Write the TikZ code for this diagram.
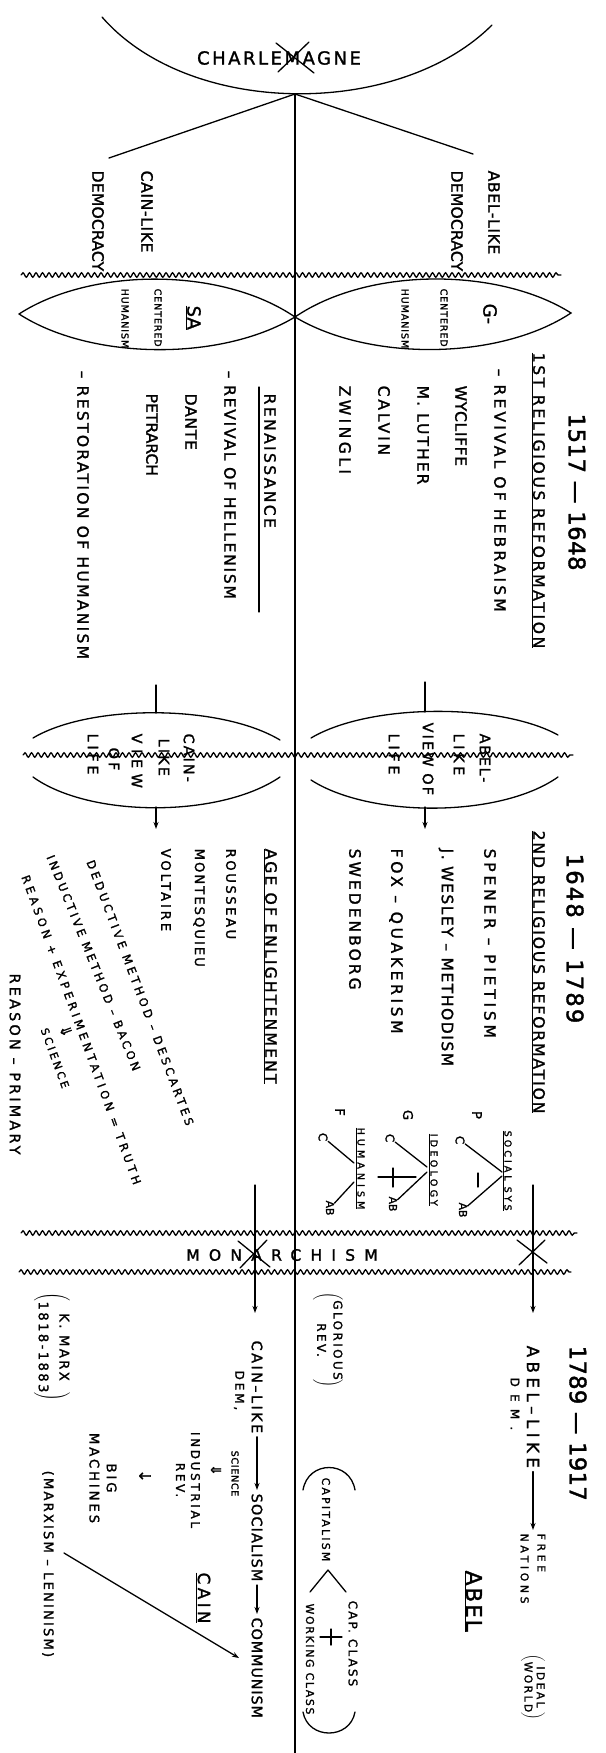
\documentclass[tikz,border=0pt]{standalone}
\usepackage{fontspec}
\setmainfont{DejaVu Sans}
\newfontfamily\handfont[FakeBold=1.5]{DejaVu Sans}
\usetikzlibrary{arrows.meta,decorations.pathmorphing}

\newcommand\hw[2]{\handfont\fontsize{#1}{#1}\selectfont\addfontfeature{LetterSpace=#2}}
\newcommand\pbox[1]{$\left(\vcenter{\hbox{\begin{tabular}{@{}c@{}}#1\end{tabular}}}\right)$}

\begin{document}
\begin{tikzpicture}[
    x=1pt, y=-1pt,
    line width=1.3pt,
    line cap=round,
    vtext/.style={
        rotate=-90,
        anchor=west,
        inner sep=0pt,
        font=\hw{15.6}{10}
    },
    ctext/.style={
        rotate=-90,
        inner sep=0pt,
        align=center
    },
    htext/.style={
        inner sep=0pt
    },
    slant/.style={
        anchor=west,
        inner sep=0pt,
        font=\hw{11.5}{28}
    },
    wave/.style={
        decorate,
        decoration={snake, segment length=6.5pt, amplitude=2.2pt}
    },
    flow/.style={
        -{Stealth[length=7pt,width=5pt]}
    },
    spine/.style={
        line width=2pt
    }
]
\useasboundingbox (0,0) rectangle (605,1753);

%---------------------------------------------------------------------
% Charlemagne
%---------------------------------------------------------------------

\coordinate (apex) at (295,94);
\coordinate (spinebot) at (295,1753);
\coordinate (cainend) at (109,158);
\coordinate (abelend) at (473,154);

\draw (102,17) .. controls (190,118) and (399,118) .. (492,25);
\node[htext, font=\hw{18}{14}] (charl) at (279,58) {CHARLEMAGNE};
\draw (276,43) -- (314,73);
\draw (309,42) -- (278,72);

\draw[spine] (apex) -- (spinebot);
\draw (apex) -- (cainend);
\draw (apex) -- (abelend);

\node[vtext, font=\hw{15.6}{4}] (cain1) at (147,170) {CAIN-LIKE};
\node[vtext, font=\hw{15.6}{1}] (democ1) at (98,170) {DEMOCRACY};
\node[vtext, font=\hw{15.6}{4}] (abel1) at (494,170) {ABEL-LIKE};
\node[vtext, font=\hw{15.6}{1}] (democ2) at (457,170) {DEMOCRACY};

%---------------------------------------------------------------------
% 1517 - 1648
%---------------------------------------------------------------------

\draw[wave] (21,275) -- (561,275);

\draw (19,314) .. controls (90,268) and (220,266) .. (295,317)
    .. controls (220,362) and (90,360) .. (19,314);
\draw (295,317) .. controls (370,266) and (500,268) .. (571,313)
    .. controls (500,360) and (370,362) .. (295,317);

\node[vtext, font=\hw{9.6}{9}] (hum1) at (125,288) {HUMANISM};
\node[vtext, font=\hw{9.6}{9}] (cent1) at (158,288) {CENTERED};
\node[vtext, font=\hw{18}{0}] (satan) at (193,305) {\underline{SA}};
\node[vtext, font=\hw{9.6}{9}] (hum2) at (405,288) {HUMANISM};
\node[vtext, font=\hw{9.6}{9}] (cent2) at (444,288) {CENTERED};
\node[vtext, font=\hw{18}{0}] (god) at (490,303) {G-};

\node[vtext, font=\hw{22.8}{2}] (date1) at (577,413) {1517 — 1648};
\node[vtext, font=\hw{15.6}{17}] (refone) at (538,352) {\underline{1ST RELIGIOUS REFORMATION}};
\node[vtext, font=\hw{15.6}{20}] (hebr) at (500,368) {– REVIVAL OF HEBRAISM};
\node[vtext, font=\hw{15.6}{4}] (wyc) at (461,385) {WYCLIFFE};
\node[vtext, font=\hw{15.6}{13}] (luther) at (423,385) {M. LUTHER};
\node[vtext, font=\hw{15.6}{18}] (calvin) at (384,385) {CALVIN};
\node[vtext, font=\hw{15.6}{22}] (zwingli) at (345,385) {ZWINGLI};

\node[vtext, font=\hw{15.6}{15}] (renai) at (270,393) {RENAISSANCE};
\draw (259,387) -- (259,612);
\node[vtext, font=\hw{15.6}{11}] (hell) at (230,370) {– REVIVAL OF HELLENISM};
\node[vtext, font=\hw{15.6}{4.5}] (dante) at (191,393) {DANTE};
\node[vtext, font=\hw{15.6}{0}] (petr) at (152,393) {PETRARCH};
\node[vtext, font=\hw{15.6}{14.5}] (restor) at (83,370) {– RESTORATION OF HUMANISM};

%---------------------------------------------------------------------
% Views of life
%---------------------------------------------------------------------

\draw[wave] (23,755) -- (573,755);

\draw (33,738) .. controls (90,704) and (220,704) .. (280,740);
\draw (33,777) .. controls (90,818) and (220,818) .. (280,777);
\draw (311,738) .. controls (370,703) and (500,703) .. (558,735);
\draw (311,780) .. controls (370,818) and (500,818) .. (558,777);

\coordinate (ltop) at (156,685);
\coordinate (ltick) at (156,713);
\coordinate (lbot) at (156,807);
\coordinate (lend) at (156,829);
\coordinate (rtop) at (425,682);
\coordinate (rtick) at (425,712);
\coordinate (rbot) at (425,807);
\coordinate (rend) at (425,829);
\draw (ltop) -- (ltick);
\draw[flow] (lbot) -- (lend);
\draw (rtop) -- (rtick);
\draw[flow] (rbot) -- (rend);

\node[vtext, font=\hw{14.4}{14}] (cainv) at (189,733) {CAIN-};
\node[vtext, font=\hw{14.4}{15}] (likel) at (164,738) {LIKE};
\node[vtext, font=\hw{14.4}{39}] (viewl) at (137,733) {VIEW};
\node[vtext, font=\hw{14.4}{22}] (ofl) at (114,747) {OF};
\node[vtext, font=\hw{14.4}{26}] (lifel) at (93,733) {LIFE};
\node[vtext, font=\hw{14.4}{12}] (abelv) at (485,733) {ABEL-};
\node[vtext, font=\hw{14.4}{25}] (liker) at (459,733) {LIKE};
\node[vtext, font=\hw{14.4}{15}] (viewr) at (428,722) {VIEW OF};
\node[vtext, font=\hw{14.4}{26}] (lifer) at (394,733) {LIFE};

%---------------------------------------------------------------------
% 1648 - 1789
%---------------------------------------------------------------------

\node[vtext, font=\hw{22.8}{9}] (date2) at (575,853) {1648 — 1789};
\node[vtext, font=\hw{15.6}{12}] (reftwo) at (538,830) {\underline{2ND RELIGIOUS REFORMATION}};
\node[vtext, font=\hw{15.6}{24}] (spener) at (490,848) {SPENER – PIETISM};
\node[vtext, font=\hw{15.6}{9.5}] (wesley) at (446,848) {J. WESLEY – METHODISM};
\node[vtext, font=\hw{15.6}{23}] (fox) at (396,848) {FOX – QUAKERISM};
\node[vtext, font=\hw{15.6}{19}] (sweden) at (355,848) {SWEDENBORG};

\node[vtext, font=\hw{15.6}{14}] (enl) at (270,848) {\underline{AGE OF ENLIGHTENMENT}};
\node[vtext, font=\hw{13.2}{19}] (rousseau) at (231,848) {ROUSSEAU};
\node[vtext, font=\hw{13.2}{15}] (montesq) at (199,848) {MONTESQUIEU};
\node[vtext, font=\hw{13.2}{22}] (voltaire) at (166,848) {VOLTAIRE};

\node[slant, rotate=-69.3, font=\hw{11.5}{29}] (deduct) at (90,860) {DEDUCTIVE METHOD – DESCARTES};
\node[slant, rotate=-68, font=\hw{11.5}{26}] (induct) at (50,855) {INDUCTIVE METHOD – BACON};
\node[slant, rotate=-70, font=\hw{11.5}{32}] (reason) at (25,875) {REASON + EXPERIMENTATION = TRUTH};
\node[slant, rotate=-70, anchor=center, font=\hw{15}{0}] (dn1) at (66,1031) {⇓};
\node[slant, rotate=-70, anchor=center, font=\hw{10.8}{25}] (sci1) at (55,1058) {SCIENCE};
\node[vtext, font=\hw{14.4}{22}] (primary) at (15,973) {REASON – PRIMARY};

%---------------------------------------------------------------------
% Forks
%---------------------------------------------------------------------

\node[vtext, anchor=center, font=\hw{13.2}{0}] (p) at (477,1115) {P};
\node[vtext, font=\hw{9.6}{31}] (socsys) at (507,1130) {\underline{SOCIAL SYS}};
\node[vtext, anchor=center, font=\hw{12}{0}] (c1) at (460,1140) {C};
\node[vtext, anchor=center, font=\hw{10.8}{0}] (ab1) at (463,1210) {AB};
\coordinate (j1a) at (502,1172);
\coordinate (j1b) at (502,1176);
\draw (c1) -- (j1a);
\draw (j1b) -- (ab1);
\draw (478,1173) -- (478,1187);

\node[vtext, anchor=center, font=\hw{13.2}{0}] (g) at (408,1115) {G};
\node[vtext, font=\hw{9.6}{34}] (ideo) at (433,1133) {\underline{IDEOLOGY}};
\node[vtext, anchor=center, font=\hw{12}{0}] (c2) at (390,1138) {C};
\node[vtext, anchor=center, font=\hw{10.8}{0}] (ab2) at (393,1204) {AB};
\coordinate (j2a) at (427,1167);
\coordinate (j2b) at (427,1172);
\draw (c2) -- (j2a);
\draw (j2b) -- (ab2);
\draw (378,1177) -- (416,1177);
\draw (393,1168) -- (393,1187);

\node[vtext, anchor=center, font=\hw{13.2}{0}] (f) at (340,1112) {F};
\node[vtext, font=\hw{9.6}{42}] (hum3) at (360,1127) {\underline{HUMANISM}};
\node[vtext, anchor=center, font=\hw{12}{0}] (c3) at (323,1137) {C};
\node[vtext, anchor=center, font=\hw{10.8}{0}] (ab3) at (330,1208) {AB};
\coordinate (j3a) at (354,1163);
\coordinate (j3b) at (354,1182);
\draw (c3) -- (j3a);
\draw (j3b) -- (ab3);

%---------------------------------------------------------------------
% Monarchism
%---------------------------------------------------------------------

\draw[wave] (21,1233) -- (577,1233);
\draw[wave] (19,1272) -- (571,1272);
\node[htext, font=\hw{15.6}{59}] (monar) at (282,1255) {MONARCHISM};
\draw (238,1241) -- (270,1267);
\draw (267,1240) -- (240,1268);
\draw (517,1240) -- (547,1263);
\draw (545,1240) -- (519,1265);

\coordinate (cstart) at (255,1185);
\coordinate (cend) at (255,1313);
\coordinate (astart) at (533,1185);
\coordinate (aend) at (533,1313);
\draw[flow] (cstart) -- (cend);
\draw[flow] (astart) -- (aend);

%---------------------------------------------------------------------
% 1789 - 1917
%---------------------------------------------------------------------

\node[ctext, font=\hw{12}{20}] (glor) at (328,1340) {\pbox{GLORIOUS\\[4pt]REV.}};
\node[ctext, font=\hw{13.2}{18}] (marx) at (52,1347) {\pbox{K. MARX\\[7pt]1818-1883}};

\node[vtext, font=\hw{22.8}{1}] (date3) at (578,1345) {1789 — 1917};
\node[vtext, font=\hw{16.8}{26}] (abell) at (533,1345) {ABEL–LIKE};
\node[vtext, font=\hw{10.8}{34}, align=left] (freen) at (533,1533) {FREE\\[6pt]NATIONS};
\draw[flow, shorten <=3pt, shorten >=3pt] (abell) -- (freen);
\node[vtext, font=\hw{12}{60}] (dem1) at (515,1377) {DEM.};
\node[ctext, font=\hw{10.8}{22}] (ideal) at (533,1687) {\pbox{IDEAL\\[1pt]WORLD}};
\node[vtext, font=\hw{21.6}{9}] (abel) at (473,1570) {\underline{ABEL}};

\node[vtext, font=\hw{14.4}{17}] (cain2) at (257,1340) {CAIN–LIKE};
\node[vtext, font=\hw{14.4}{8}] (social) at (257,1493) {SOCIALISM};
\node[vtext, font=\hw{14.4}{6}] (commun) at (257,1617) {COMMUNISM};
\draw[flow, shorten <=3pt, shorten >=3pt] (cain2) -- (social);
\draw[flow, shorten <=3pt, shorten >=3pt] (social) -- (commun);
\node[vtext, font=\hw{12}{24}] (dem2) at (239,1370) {DEM,};
\node[vtext, font=\hw{9.6}{7}] (sci2) at (235,1450) {SCIENCE};
\node[vtext, anchor=center, font=\hw{14}{0}] (dn2) at (216,1470) {⇓};
\node[vtext, anchor=center, font=\hw{12}{22}, align=center] (indus) at (188,1480) {INDUSTRIAL\\[3pt]REV.};
\node[vtext, anchor=center, font=\hw{16}{0}] (dn3) at (145,1476) {↓};
\node[vtext, anchor=center, font=\hw{13.2}{22}, align=center] (bigm) at (103,1478) {BIG\\[4pt]MACHINES};
\node[vtext, font=\hw{16.8}{20}] (cain3) at (203,1572) {\underline{CAIN}};
\node[vtext, font=\hw{13.2}{16}] (marxlen) at (48,1470) {(MARXISM – LENINISM)};

\coordinate (mlfrom) at (64,1553);
\coordinate (mlto) at (239,1658);
\draw[flow] (mlfrom) -- (mlto);

\draw (303,1490) .. controls (308,1460) and (350,1460) .. (355,1490);
\draw (303,1712) .. controls (308,1740) and (350,1740) .. (355,1712);
\node[vtext, font=\hw{10.8}{21}] (capit) at (326,1477) {CAPITALISM};
\coordinate (vtx) at (328,1570);
\draw (vtx) -- (346,1592);
\draw (vtx) -- (310,1592);
\node[vtext, font=\hw{12}{18}] (capcl) at (353,1600) {CAP. CLASS};
\node[vtext, font=\hw{10.8}{16}] (workcl) at (310,1603) {WORKING CLASS};
\draw (320,1637) -- (342,1637);
\draw (331,1629) -- (331,1645);

\end{tikzpicture}
\end{document}
